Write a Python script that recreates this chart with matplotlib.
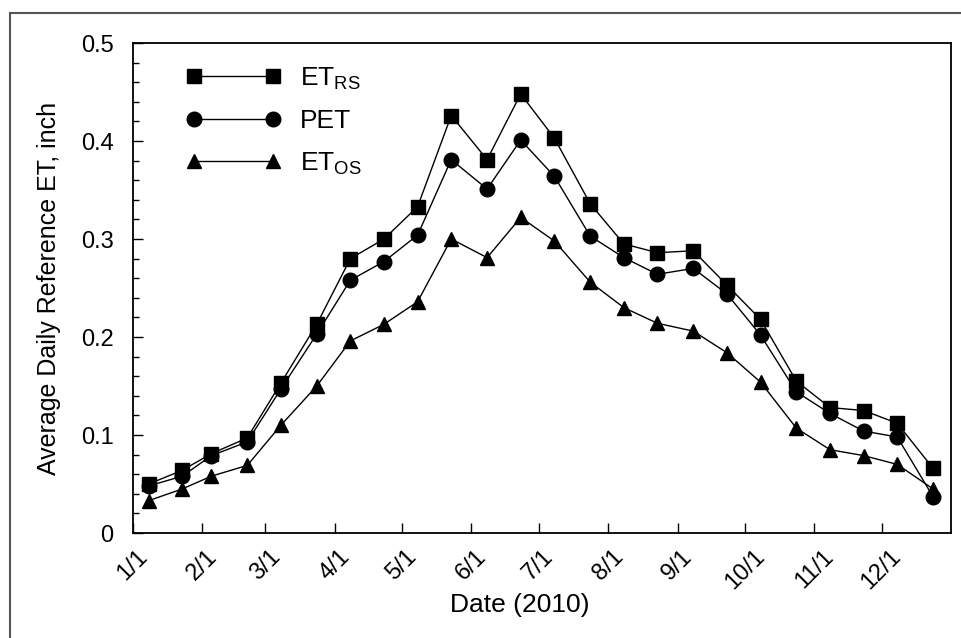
import matplotlib
matplotlib.use("Agg")
import matplotlib.pyplot as plt
from matplotlib.ticker import MultipleLocator
from matplotlib.patches import Rectangle
import pandas as pd

plt.rcParams['font.family'] = ['Liberation Sans', 'DejaVu Sans']

dates = ["2010-01-08", "2010-01-23", "2010-02-05", "2010-02-21", "2010-03-08", "2010-03-24",
         "2010-04-08", "2010-04-23", "2010-05-08", "2010-05-23", "2010-06-08", "2010-06-23",
         "2010-07-08", "2010-07-24", "2010-08-08", "2010-08-23", "2010-09-08", "2010-09-23",
         "2010-10-08", "2010-10-24", "2010-11-08", "2010-11-23", "2010-12-08", "2010-12-24"]
et_rs = [0.050, 0.064, 0.081, 0.097, 0.153, 0.213, 0.280, 0.300, 0.333, 0.426, 0.381, 0.448,
         0.403, 0.336, 0.295, 0.286, 0.288, 0.253, 0.218, 0.155, 0.128, 0.125, 0.112, 0.066]
pet = [0.048, 0.058, 0.079, 0.093, 0.147, 0.203, 0.258, 0.277, 0.304, 0.381, 0.351, 0.401,
       0.364, 0.303, 0.281, 0.264, 0.270, 0.244, 0.202, 0.144, 0.122, 0.104, 0.098, 0.037]
et_os = [0.033, 0.045, 0.058, 0.069, 0.110, 0.150, 0.196, 0.213, 0.236, 0.300, 0.281, 0.322,
         0.298, 0.256, 0.230, 0.214, 0.206, 0.184, 0.154, 0.107, 0.085, 0.079, 0.070, 0.045]
tick_dates = ["2010-%02d-01" % m for m in range(1, 13)]
tick_labels = ["%d/1" % m for m in range(1, 13)]
y_ticks = [0, 0.1, 0.2, 0.3, 0.4, 0.5]
y_tick_labels = ["0", "0.1", "0.2", "0.3", "0.4", "0.5"]

x = pd.to_datetime(dates)

fig = plt.figure(figsize=(9.62, 6.38), dpi=100)
fig.patches.append(Rectangle((10/962, -0.01), 1.0, (638-13)/638 + 0.01, transform=fig.transFigure,
                             fill=False, edgecolor='#555555', linewidth=1.5))
ax = fig.add_axes([133/962, 105/638, (951-133)/962, (533-43)/638])

ms = 10.5
line_kw = dict(color='black', lw=1.0, mfc='black', mec='black')
ax.plot(x, et_rs, marker='s', ms=ms, label='ET$_{\\mathregular{RS}}$', **line_kw)
ax.plot(x, pet, marker='o', ms=ms, label='PET', **line_kw)
ax.plot(x, et_os, marker='^', ms=ms, label='ET$_{\\mathregular{OS}}$', **line_kw)

ax.set_xlim(pd.Timestamp("2010-01-01"), pd.Timestamp("2011-01-01"))
ax.set_ylim(0, 0.5)
ax.set_xticks(pd.to_datetime(tick_dates))
ax.set_xticklabels(tick_labels, rotation=45, ha='center')
ax.set_yticks(y_ticks)
ax.set_yticklabels(y_tick_labels)
ax.yaxis.set_minor_locator(MultipleLocator(0.02))
ax.tick_params(axis='both', which='major', direction='in', length=7, width=1.0, labelsize=17)
ax.tick_params(axis='y', pad=14)
ax.tick_params(axis='x', pad=9)
ax.tick_params(axis='both', which='minor', direction='in', length=4, width=1.0)
for s in ax.spines.values():
    s.set_linewidth(1.3)

ax.set_xlabel("Date (2010)", fontsize=19)
ax.xaxis.set_label_coords((520 - 133) / 818, -(605 - 533) / 490)
ax.xaxis.label.set_va('center')
ax.set_ylabel("Average Daily Reference ET, inch", fontsize=18, labelpad=14)

leg = ax.legend(loc='upper left', numpoints=2, frameon=False, fontsize=19, handlelength=3.6,
                handletextpad=0.7, labelspacing=0.66, borderaxespad=0.0, borderpad=0.0,
                bbox_to_anchor=(0.065, 0.955))

fig.savefig("out.png", dpi=100)
